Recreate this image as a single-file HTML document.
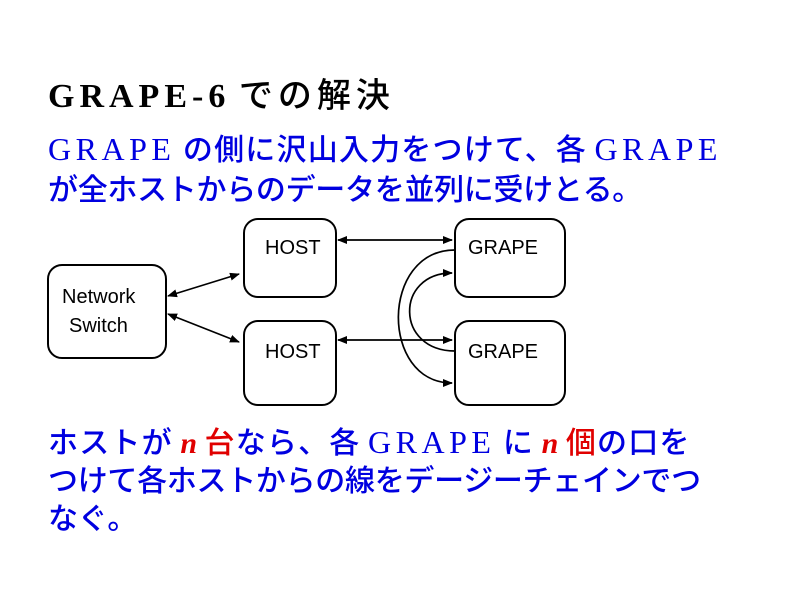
<!DOCTYPE html>
<html><head><meta charset="utf-8"><style>
body{margin:0;width:800px;height:600px;background:#fff;position:relative;overflow:hidden}
.t{position:absolute;left:48px;white-space:nowrap;font-family:"Liberation Serif","Noto Sans CJK JP",serif;font-size:30px;line-height:1}
.j{font-family:"Noto Sans CJK JP",sans-serif;font-weight:500;letter-spacing:-0.3px}
.g{letter-spacing:4.5px;font-size:32px}
.w{letter-spacing:1.2px}
.b{color:#0000e0}
.r{color:#e00000;font-style:italic;font-weight:bold}
.s{font-weight:bold;letter-spacing:5px}
</style></head><body>
<div class="t" style="top:76px;color:#000;font-size:34px"><span class="s">GRAPE-6</span> <span class="j" style="letter-spacing:5px">での解決</span></div>
<div class="t b" style="top:132px"><span class="g">GRAPE</span> <span class="j w">の側に沢山入力をつけて、各</span> <span class="g">GRAPE</span></div>
<div class="t b j" style="top:172px">が全ホストからのデータを並列に受けとる。</div>
<svg style="position:absolute;left:0;top:0" width="800" height="600">
<defs><marker id="a" markerWidth="10" markerHeight="8" refX="9" refY="4" orient="auto-start-reverse" markerUnits="userSpaceOnUse"><path d="M0,0L10,4L0,8z" fill="#000"/></marker></defs>
<g fill="none" stroke="#000" stroke-width="2">
<rect x="48" y="265" width="118" height="93" rx="14"/>
<rect x="244" y="219" width="92" height="78" rx="14"/>
<rect x="244" y="321" width="92" height="84" rx="14"/>
<rect x="455" y="219" width="110" height="78" rx="14"/>
<rect x="455" y="321" width="110" height="84" rx="14"/>
</g>
<g fill="none" stroke="#000" stroke-width="1.7" marker-start="url(#a)" marker-end="url(#a)">
<line x1="168" y1="296" x2="239" y2="274"/>
<line x1="168" y1="314" x2="239" y2="342"/>
<line x1="338" y1="240" x2="452" y2="240"/>
<line x1="338" y1="340" x2="452" y2="340"/>
</g>
<g fill="none" stroke="#000" stroke-width="1.7" marker-end="url(#a)">
<path d="M455,250 C380,250 380,383 452,383"/>
<path d="M455,351 C395,351 395,273 452,273"/>
</g>
<g font-family="Liberation Sans,sans-serif" font-size="20" fill="#000">
<text x="62" y="303">Network</text><text x="69" y="332">Switch</text>
<text x="265" y="254">HOST</text><text x="265" y="358">HOST</text>
<text x="468" y="254">GRAPE</text><text x="468" y="358">GRAPE</text>
</g>
</svg>
<div class="t b" style="top:425px"><span class="j w">ホストが</span> <span class="r">n</span> <span class="j w" style="color:#e00000">台</span><span class="j w">なら、各</span> <span class="g">GRAPE</span> <span class="j w">に</span> <span class="r">n</span> <span class="j w" style="color:#e00000">個</span><span class="j w">の口を</span></div>
<div class="t b j" style="top:463px">つけて各ホストからの線をデージーチェインでつ</div>
<div class="t b j" style="top:501px">なぐ。</div>
</body></html>
